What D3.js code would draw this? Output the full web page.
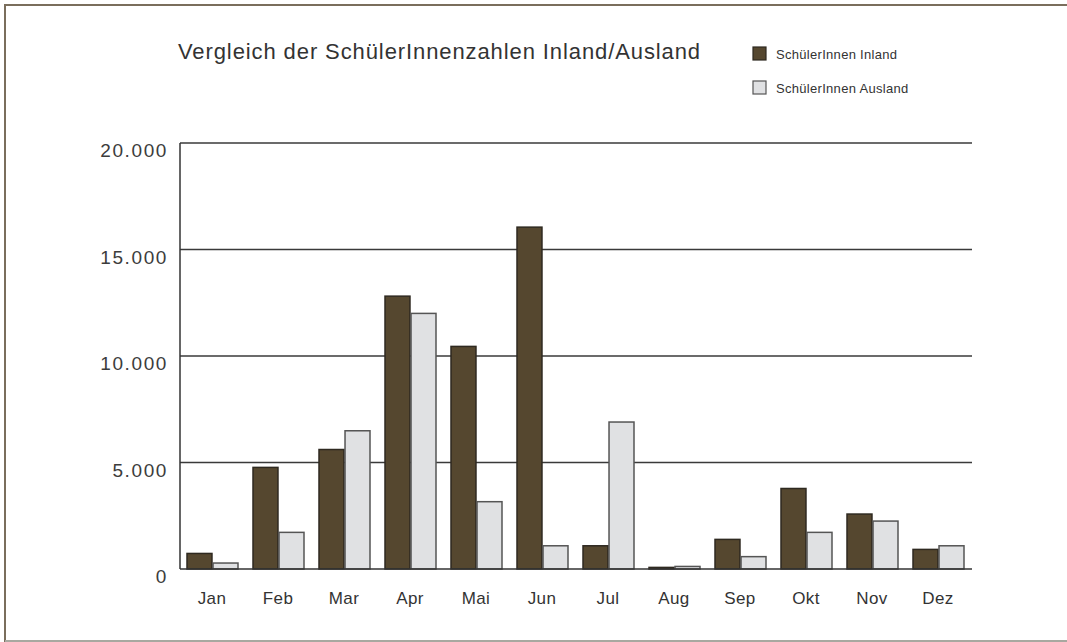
<!DOCTYPE html>
<html>
<head>
<meta charset="utf-8">
<script src="https://cdn.jsdelivr.net/npm/d3@7"></script>
<style>
  body { margin: 0; background: #fff; }
  svg { display: block; }
  text { font-family: "Liberation Sans", Arial, sans-serif; }
</style>
</head>
<body>
<svg width="1067" height="642"></svg>
<script>
// data
var months = ["Jan", "Feb", "Mar", "Apr", "Mai", "Jun", "Jul", "Aug", "Sep", "Okt", "Nov", "Dez"];
var inland = [730, 4770, 5610, 12810, 10450, 16050, 1090, 75, 1390, 3780, 2580, 920];
var ausland = [280, 1720, 6490, 12000, 3160, 1090, 6900, 120, 580, 1720, 2250, 1090];
var yTicks = [0, 5000, 10000, 15000, 20000];
var seriesNames = ["SchülerInnen Inland", "SchülerInnen Ausland"];
var seriesColors = ["#55472f", "#e0e1e3"];
var seriesStroke = ["#2e2920", "#555555"];

var svg = d3.select("svg");

// frame around the picture
svg.append("path")
    .attr("d", "M5,642 V5 H1067")
    .attr("fill", "none")
    .attr("stroke", "#7a6e5c")
    .attr("stroke-width", 2);
svg.append("line")
    .attr("x1", 5).attr("x2", 1067)
    .attr("y1", 641).attr("y2", 641)
    .attr("stroke", "#a8a8a0")
    .attr("stroke-width", 2);

var plotL = 180, plotR = 972, plotT = 143, plotB = 569;

var x = d3.scaleBand()
    .domain(months)
    .range([plotL, plotR])
    .paddingInner(0)
    .paddingOuter(0);

var x1 = d3.scaleBand()
    .domain([0, 1])
    .range([7, 58])
    .paddingInner(0.04);

var y = d3.scaleLinear()
    .domain([0, 20000])
    .range([plotB, plotT]);

var fmt = function(d) { return d3.format(",")(d).replace(/,/g, "."); };

// gridlines
svg.append("g")
  .selectAll("line")
  .data(yTicks.filter(function(d) { return d > 0; }))
  .enter().append("line")
    .attr("x1", plotL).attr("x2", plotR)
    .attr("y1", function(d) { return y(d); })
    .attr("y2", function(d) { return y(d); })
    .attr("stroke", "#3a3a3a")
    .attr("stroke-width", 1.3);

// y labels
svg.append("g")
  .selectAll("text")
  .data(yTicks)
  .enter().append("text")
    .attr("x", 168)
    .attr("y", function(d) { return y(d) + 14; })
    .attr("text-anchor", "end")
    .attr("font-size", 19)
    .attr("letter-spacing", 1.6)
    .attr("fill", "#3c3c3c")
    .text(fmt);

// bars
var groups = svg.append("g")
  .selectAll("g")
  .data(months)
  .enter().append("g")
    .attr("transform", function(d) { return "translate(" + x(d) + ",0)"; });

[inland, ausland].forEach(function(series, s) {
  groups.append("rect")
    .attr("x", x1(s))
    .attr("width", x1.bandwidth())
    .attr("y", function(d, i) { return y(series[i]); })
    .attr("height", function(d, i) { return plotB - y(series[i]); })
    .attr("fill", seriesColors[s])
    .attr("stroke", seriesStroke[s])
    .attr("stroke-width", 1.5);
});

// axis lines
svg.append("line")
    .attr("x1", plotL).attr("x2", plotL)
    .attr("y1", plotT).attr("y2", plotB)
    .attr("stroke", "#333")
    .attr("stroke-width", 1.5);
svg.append("line")
    .attr("x1", plotL).attr("x2", plotR)
    .attr("y1", plotB).attr("y2", plotB)
    .attr("stroke", "#333")
    .attr("stroke-width", 1.5);

// x labels
svg.append("g")
  .selectAll("text")
  .data(months)
  .enter().append("text")
    .attr("x", function(d) { return x(d) + 32; })
    .attr("y", 604)
    .attr("text-anchor", "middle")
    .attr("font-size", 17)
    .attr("letter-spacing", 0.4)
    .attr("fill", "#333")
    .text(function(d) { return d; });

// title
svg.append("text")
    .attr("x", 178)
    .attr("y", 59)
    .attr("font-size", 22)
    .attr("letter-spacing", 0.9)
    .attr("fill", "#333")
    .text("Vergleich der SchülerInnenzahlen Inland/Ausland");

// legend
var legend = svg.append("g")
  .selectAll("g")
  .data(seriesNames)
  .enter().append("g")
    .attr("transform", function(d, i) { return "translate(753," + (47 + i * 34) + ")"; });

legend.append("rect")
    .attr("width", 13).attr("height", 13)
    .attr("fill", function(d, i) { return seriesColors[i]; })
    .attr("stroke", function(d, i) { return seriesStroke[i]; })
    .attr("stroke-width", 1.2);

legend.append("text")
    .attr("x", 23)
    .attr("y", 12)
    .attr("font-size", 13)
    .attr("letter-spacing", 0.3)
    .attr("fill", "#333")
    .text(function(d) { return d; });
</script>
</body>
</html>
